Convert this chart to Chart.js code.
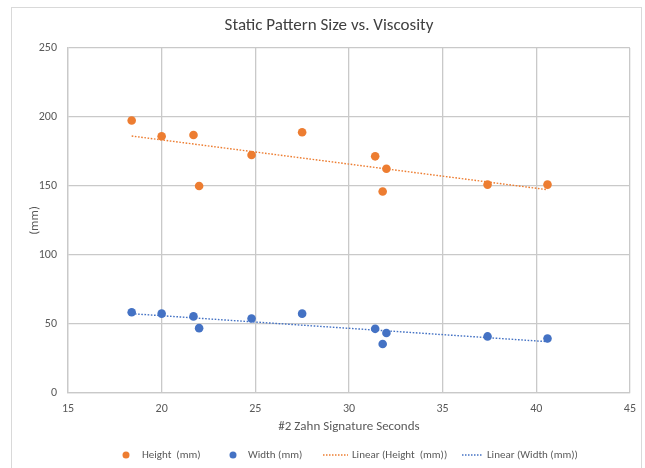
<!DOCTYPE html>
<html>
<head>
<meta charset="utf-8">
<script src="https://cdn.jsdelivr.net/npm/chart.js@4/dist/chart.umd.min.js"></script>
<style>
  html, body { margin: 0; padding: 0; background: #ffffff; }
  #wrap { width: 645px; height: 468px; }
</style>
</head>
<body>
<div id="wrap"><canvas id="c" width="645" height="468"></canvas></div>
<script>
// ---- Data ----
const chartTitle = 'Static Pattern Size vs. Viscosity';
const xAxisTitle = '#2 Zahn Signature Seconds';
const yAxisTitle = '(mm)';
const seriesNames = ['Height  (mm)', 'Width (mm)', 'Linear (Height  (mm))', 'Linear (Width (mm))'];
const zahnSeconds = [18.4, 20.0, 21.7, 22.0, 24.8, 27.5, 31.4, 32.0, 31.8, 37.4, 40.6];
const heightMm    = [197.5, 186, 187, 150, 172.5, 189, 171.5, 162.5, 146, 151, 151];
const widthMm     = [58.5, 57.5, 55.5, 47, 54, 57.5, 46.5, 43.5, 35.5, 41, 39.5];
const xTicks = [15, 20, 25, 30, 35, 40, 45];
const yTicks = [0, 50, 100, 150, 200, 250];

const orange = '#ED7D31';
const blue = '#4472C4';
const textGray = '#595959';
const gridGray = '#c9c9c9';
const FONT = 'Carlito, Lato, "Open Sans", sans-serif';

function pts(xs, ys) { return xs.map((x, i) => ({ x: x, y: ys[i] })); }
// least-squares linear trendline over the data range
function trend(xs, ys) {
  const n = xs.length;
  const mx = xs.reduce((a, b) => a + b, 0) / n;
  const my = ys.reduce((a, b) => a + b, 0) / n;
  let sxy = 0, sxx = 0;
  for (let i = 0; i < n; i++) { sxy += (xs[i] - mx) * (ys[i] - my); sxx += (xs[i] - mx) ** 2; }
  const m = sxy / sxx, b = my - m * mx;
  const x0 = Math.min(...xs), x1 = Math.max(...xs);
  return [{ x: x0, y: m * x0 + b }, { x: x1, y: m * x1 + b }];
}

const outerBorder = {
  id: 'outerBorder',
  beforeDraw(chart) {
    const ctx = chart.ctx;
    ctx.save();
    ctx.fillStyle = '#ffffff';
    ctx.fillRect(0, 0, chart.width, chart.height);
    ctx.strokeStyle = '#d9d9d9';
    ctx.lineWidth = 1;
    ctx.strokeRect(11.5, 7.5, 630, 470);
    ctx.restore();
  }
};

const titleAndLegend = {
  id: 'titleAndLegend',
  afterDraw(chart) {
    const ctx = chart.ctx;
    ctx.save();
    // chart title
    ctx.font = '17px ' + FONT;
    ctx.fillStyle = '#404040';
    ctx.textAlign = 'center';
    ctx.textBaseline = 'middle';
    ctx.fillText(chartTitle, 329, 26);

    // legend
    const y = 455;
    const items = [
      { type: 'dot', color: orange, sx: 126, tx: 142, text: seriesNames[0] },
      { type: 'dot', color: blue, sx: 233, tx: 248, text: seriesNames[1] },
      { type: 'line', color: orange, sx: 323, ex: 348, tx: 352, text: seriesNames[2] },
      { type: 'line', color: blue, sx: 462, ex: 483, tx: 487, text: seriesNames[3] }
    ];
    ctx.font = '11px ' + FONT;
    ctx.textAlign = 'left';
    items.forEach(it => {
      if (it.type === 'dot') {
        ctx.fillStyle = it.color;
        ctx.beginPath();
        ctx.arc(it.sx, y, 3.5, 0, Math.PI * 2);
        ctx.fill();
      } else {
        ctx.strokeStyle = it.color;
        ctx.lineWidth = 1.3;
        ctx.setLineDash([1.5, 1.5]);
        ctx.beginPath();
        ctx.moveTo(it.sx, y);
        ctx.lineTo(it.ex, y);
        ctx.stroke();
        ctx.setLineDash([]);
      }
      ctx.fillStyle = textGray;
      ctx.fillText(it.text, it.tx, y);
    });
    ctx.restore();
  }
};

new Chart(document.getElementById('c'), {
  type: 'scatter',
  data: {
    datasets: [
      { label: seriesNames[0], data: pts(zahnSeconds, heightMm), backgroundColor: orange, borderColor: orange,
        pointRadius: 4.3, pointHoverRadius: 4.3, borderWidth: 0 },
      { label: seriesNames[1], data: pts(zahnSeconds, widthMm), backgroundColor: blue, borderColor: blue,
        pointRadius: 4.3, pointHoverRadius: 4.3, borderWidth: 0 },
      { label: seriesNames[2], data: trend(zahnSeconds, heightMm), showLine: true, pointRadius: 0,
        borderColor: orange, borderWidth: 1.4, borderDash: [1.6, 1.6], fill: false },
      { label: seriesNames[3], data: trend(zahnSeconds, widthMm), showLine: true, pointRadius: 0,
        borderColor: blue, borderWidth: 1.4, borderDash: [1.6, 1.6], fill: false }
    ]
  },
  options: {
    responsive: false,
    animation: false,
    devicePixelRatio: 1,
    layout: { padding: { left: 0, right: 12, top: 48, bottom: 33 } },
    plugins: {
      legend: { display: false },
      tooltip: { enabled: false },
      title: { display: false }
    },
    scales: {
      x: {
        type: 'linear',
        min: 15, max: 45,
        afterBuildTicks(s) { s.ticks = xTicks.map(v => ({ value: v })); },
        afterFit(s) { s.height = 42; },
        grid: { color: gridGray, lineWidth: 1.3, drawTicks: false },
        border: { color: gridGray, width: 1.3 },
        ticks: { color: textGray, font: { family: FONT, size: 12 }, padding: 9, maxRotation: 0 },
        title: { display: true, text: xAxisTitle, color: textGray, font: { family: FONT, size: 13 }, padding: { top: 0, bottom: 0 } }
      },
      y: {
        type: 'linear',
        min: 0, max: 250,
        afterBuildTicks(s) { s.ticks = yTicks.map(v => ({ value: v })); },
        afterFit(s) { s.width = 68; },
        grid: { color: gridGray, lineWidth: 1.3, drawTicks: false },
        border: { color: gridGray, width: 1.3 },
        ticks: { color: textGray, font: { family: FONT, size: 12 }, padding: 11 },
        title: { display: true, text: yAxisTitle, color: textGray, font: { family: FONT, size: 13 }, padding: { top: 27, bottom: 0 } }
      }
    }
  },
  plugins: [outerBorder, titleAndLegend]
});
</script>
</body>
</html>
